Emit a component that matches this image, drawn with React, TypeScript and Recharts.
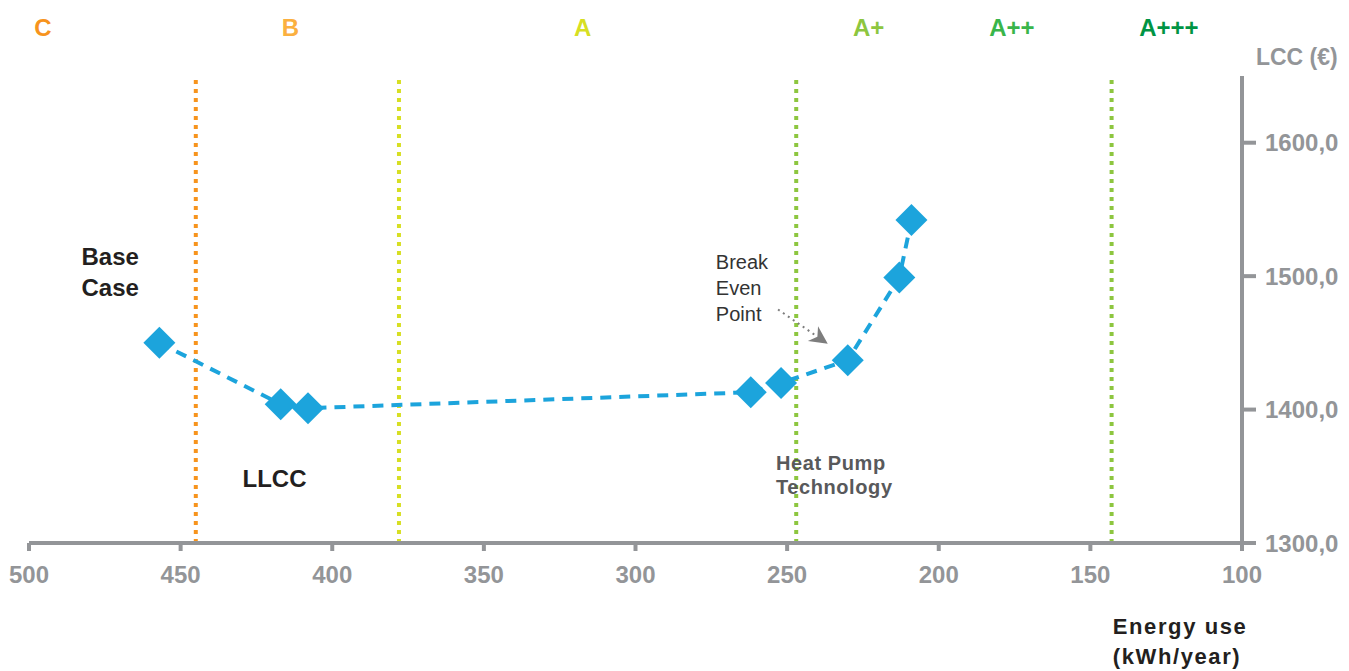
import React from 'react';
import { LineChart, Line, XAxis, YAxis, ReferenceLine, ReferenceDot } from 'recharts';

// Energy use (kWh/year) against life cycle cost (€) per design option
const energyUse = [457, 417, 408, 262, 252, 230, 213, 209];
const lifeCycleCost = [1450, 1404, 1401, 1413, 1420, 1437, 1499, 1542];

const energyTicks = [500, 450, 400, 350, 300, 250, 200, 150, 100];
const costTicks = [1300, 1400, 1500, 1600];

// Energy class boundaries (kWh/year)
const classLimits = [445, 378, 247, 143];
const classNames = ['C', 'B', 'A', 'A+', 'A++', 'A+++'];

const FONT = '"Liberation Sans", Arial, Helvetica, sans-serif';
const AXIS_GREY = '#939598';
const SERIES_BLUE = '#1ca4dc';

const limitColors = ['#f7941d', '#d7df23', '#8dc63f', '#8dc63f'];
const classColors = ['#f7941d', '#fbb040', '#d7df23', '#8dc63f', '#39b54a', '#009444'];
// class headings sit above the plot, placed in energy units
const classLabelX = [495.4, 413.8, 317.4, 223.1, 175.9, 124.1];
const HEADING_Y = 1686.6;

const points = energyUse.map((e, i) => ({ energy: e, lcc: lifeCycleCost[i] }));

type NoteProps = {
  cx: number;
  cy: number;
  lines: string[];
  size: number;
  weight?: string | number;
  color: string;
  lineHeight?: number;
  anchor?: 'start' | 'middle' | 'end';
  spacing?: number;
};

const Note = ({ cx, cy, lines, size, weight = 'bold', color, lineHeight = 0, anchor = 'start', spacing = 0 }: NoteProps) => (
  <text
    x={cx}
    y={cy}
    textAnchor={anchor}
    fontFamily={FONT}
    fontSize={size}
    fontWeight={weight}
    fill={color}
    letterSpacing={spacing}
  >
    {lines.map((line, i) => (
      <tspan key={i} x={cx} y={cy + i * lineHeight} dy="0.36em">
        {line}
      </tspan>
    ))}
  </text>
);

const Diamond = (props: any) => {
  const { cx, cy, index } = props;
  if (cx == null || cy == null) return null;
  const r = 16;
  return (
    <polygon
      key={`d-${index}`}
      points={`${cx},${cy - r} ${cx + r},${cy} ${cx},${cy + r} ${cx - r},${cy}`}
      fill={SERIES_BLUE}
    />
  );
};

const Arrow = (props: any) => {
  const { x1, y1, x2, y2 } = props;
  const ang = Math.atan2(y2 - y1, x2 - x1);
  const len = 18;
  const half = 9;
  const bx = x2 - len * Math.cos(ang);
  const by = y2 - len * Math.sin(ang);
  const nx = -Math.sin(ang);
  const ny = Math.cos(ang);
  const notchX = x2 - len * 0.7 * Math.cos(ang);
  const notchY = y2 - len * 0.7 * Math.sin(ang);
  return (
    <g>
      <line x1={x1} y1={y1} x2={notchX} y2={notchY} stroke="#7d7d7d" strokeWidth={2} strokeDasharray="2 4" />
      <polygon
        points={`${x2},${y2} ${bx + nx * half},${by + ny * half} ${notchX},${notchY} ${bx - nx * half},${by - ny * half}`}
        fill="#7d7d7d"
      />
    </g>
  );
};

const formatCost = (v: number) => v.toFixed(1).replace('.', ',');

export default function App() {
  return (
    <div style={{ position: 'absolute', left: 0, top: 0 }}>
      <LineChart
        width={1349}
        height={671}
        data={points}
        margin={{ top: 76, right: 8, bottom: 88, left: 29 }}
      >
        <XAxis
          dataKey="energy"
          type="number"
          domain={[100, 500]}
          ticks={energyTicks}
          reversed
          allowDataOverflow
          height={40}
          axisLine={{ stroke: AXIS_GREY, strokeWidth: 4 }}
          tickLine={{ stroke: AXIS_GREY, strokeWidth: 4 }}
          tickSize={8}
          tickMargin={15}
          tick={{ fill: AXIS_GREY, fontSize: 24, fontWeight: 'bold', fontFamily: FONT }}
        />
        <YAxis
          orientation="right"
          type="number"
          domain={[1300, 1650]}
          ticks={costTicks}
          allowDataOverflow
          width={99}
          axisLine={{ stroke: AXIS_GREY, strokeWidth: 4 }}
          tickLine={{ stroke: AXIS_GREY, strokeWidth: 4 }}
          tickSize={14}
          tickMargin={9}
          tickFormatter={formatCost}
          tick={{ fill: AXIS_GREY, fontSize: 24, fontWeight: 'bold', fontFamily: FONT }}
        />

        {classLimits.map((x, i) => (
          <ReferenceLine
            key={`limit-${x}`}
            x={x}
            stroke={limitColors[i]}
            strokeWidth={4}
            strokeDasharray="4 5"
          />
        ))}

        {classNames.map((name, i) => (
          <ReferenceDot
            key={`class-${name}`}
            x={classLabelX[i]}
            y={HEADING_Y}
            r={0}
            ifOverflow="visible"
            shape={(p: any) => (
              <Note cx={p.cx} cy={p.cy} lines={[name]} size={24} color={classColors[i]} anchor="middle" />
            )}
          />
        ))}

        <ReferenceDot
          x={95.4}
          y={1664.1}
          r={0}
          ifOverflow="visible"
          shape={(p: any) => <Note cx={p.cx} cy={p.cy} lines={['LCC (€)']} size={23} color={AXIS_GREY} />}
        />
        <ReferenceDot
          x={142.6}
          y={1237.4}
          r={0}
          ifOverflow="visible"
          shape={(p: any) => (
            <Note cx={p.cx} cy={p.cy} lines={['Energy use', '(kWh/year)']} size={22} spacing={1.6} lineHeight={30} color="#231f20" />
          )}
        />
        <ReferenceDot
          x={482.7}
          y={1514.6}
          r={0}
          ifOverflow="visible"
          shape={(p: any) => (
            <Note cx={p.cx} cy={p.cy} lines={['Base', 'Case']} size={24} lineHeight={31} color="#231f20" />
          )}
        />
        <ReferenceDot
          x={429.6}
          y={1348.6}
          r={0}
          ifOverflow="visible"
          shape={(p: any) => <Note cx={p.cx} cy={p.cy} lines={['LLCC']} size={24} color="#231f20" />}
        />
        <ReferenceDot
          x={273.5}
          y={1511.1}
          r={0}
          ifOverflow="visible"
          shape={(p: any) => (
            <Note cx={p.cx} cy={p.cy} lines={['Break', 'Even', 'Point']} size={20} weight="normal" lineHeight={26} color="#333333" />
          )}
        />
        <ReferenceDot
          x={253.7}
          y={1359.9}
          r={0}
          ifOverflow="visible"
          shape={(p: any) => (
            <Note cx={p.cx} cy={p.cy} lines={['Heat Pump', 'Technology']} size={20} spacing={0.6} lineHeight={24} color="#58595b" />
          )}
        />
        <ReferenceLine
          segment={[
            { x: 253, y: 1475 },
            { x: 236.6, y: 1449.3 },
          ]}
          shape={Arrow}
        />

        <Line
          dataKey="lcc"
          type="linear"
          stroke={SERIES_BLUE}
          strokeWidth={4}
          strokeDasharray="11 8"
          dot={Diamond}
          activeDot={false}
          isAnimationActive={false}
        />
      </LineChart>
    </div>
  );
}
